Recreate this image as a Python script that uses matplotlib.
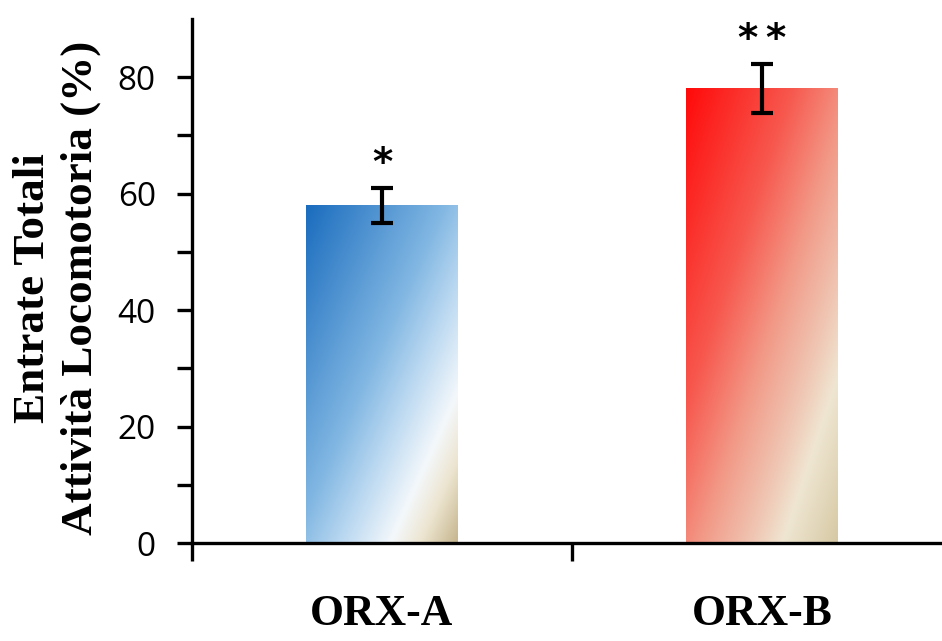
import numpy as np
import matplotlib
matplotlib.use("Agg")
import matplotlib.pyplot as plt
from matplotlib.colors import LinearSegmentedColormap
from matplotlib.ticker import FixedLocator

# ---- data ----
categories = ["ORX-A", "ORX-B"]
values = [58.0, 78.1]
errors = [3.0, 4.2]
stars = ["*", "*\u2009*"]
yticks_major = [0, 20, 40, 60, 80]
yticks_minor = [10, 30, 50, 70]

# gradient colour stops for each bar (top-left -> bottom-right)
blue_stops = [(0.0, "#1a6cbe"), (0.45, "#80b6e2"), (0.62, "#bcd9f1"),
              (0.78, "#f4f8fb"), (0.88, "#ece4cf"), (1.0, "#c6b68e")]
red_stops = [(0.0, "#ff0a0a"), (0.35, "#f7584e"), (0.55, "#f29a88"),
             (0.72, "#efc7b4"), (0.82, "#efe6d2"), (1.0, "#d6c9a4")]

fig = plt.figure(figsize=(9.42, 6.41), dpi=100)
ax = fig.add_axes([192/942, 98/641, 760/942, 524/641])

x = np.arange(len(categories))
width = 0.4

nx, ny = 200, 400
u = np.linspace(0, 1, nx)[None, :]
v = np.linspace(0, 1, ny)[:, None]
t = (u + v) / 2.0
for xi, val, stops in zip(x, values, [blue_stops, red_stops]):
    cmap = LinearSegmentedColormap.from_list("g", stops)
    img = cmap(t)
    ax.imshow(img, extent=[xi - width/2, xi + width/2, 0, val],
              aspect="auto", origin="upper", zorder=1, interpolation="bilinear")

ax.set_xlim(-0.5, 1.5)
ax.set_ylim(0, 90)

ax.errorbar(x, values, yerr=errors, fmt="none", ecolor="black",
            elinewidth=3, capsize=8, capthick=3, zorder=3)

for xi, val, err, s in zip(x, values, errors, stars):
    ax.annotate(s, xy=(xi, val + err), xytext=(0, 17), textcoords="offset points",
                ha="center", va="center", fontsize=28, fontweight="bold",
                family="DejaVu Sans", zorder=4)

for sp in ["top", "right"]:
    ax.spines[sp].set_visible(False)
for sp in ["left", "bottom"]:
    ax.spines[sp].set_linewidth(2.4)

ax.yaxis.set_major_locator(FixedLocator(yticks_major))
ax.yaxis.set_minor_locator(FixedLocator(yticks_minor))
ax.tick_params(axis="y", which="both", direction="out", length=11, width=2.4, pad=15,
               labelsize=24)
for lab in ax.get_yticklabels():
    lab.set_family("Open Sans")

ax.xaxis.set_major_locator(FixedLocator([-0.5, 0.5, 1.5]))
ax.tick_params(axis="x", which="major", direction="out", length=13, width=2.4,
               labelbottom=False)

for xi, c in zip(x, categories):
    ax.annotate(c, xy=(xi, 0), xytext=(0, -51), textcoords="offset points",
                ha="center", va="center", fontsize=31.5, fontweight="bold",
                family="Liberation Serif")

fig.text(57/942, 1 - 288/641, "Entrate Totali\nAttività Locomotoria (%)",
         rotation=90, ha="center", va="center", multialignment="center",
         fontsize=32.5, fontweight="bold", family="Liberation Serif", linespacing=1.25)

fig.savefig("out.png", dpi=100)
